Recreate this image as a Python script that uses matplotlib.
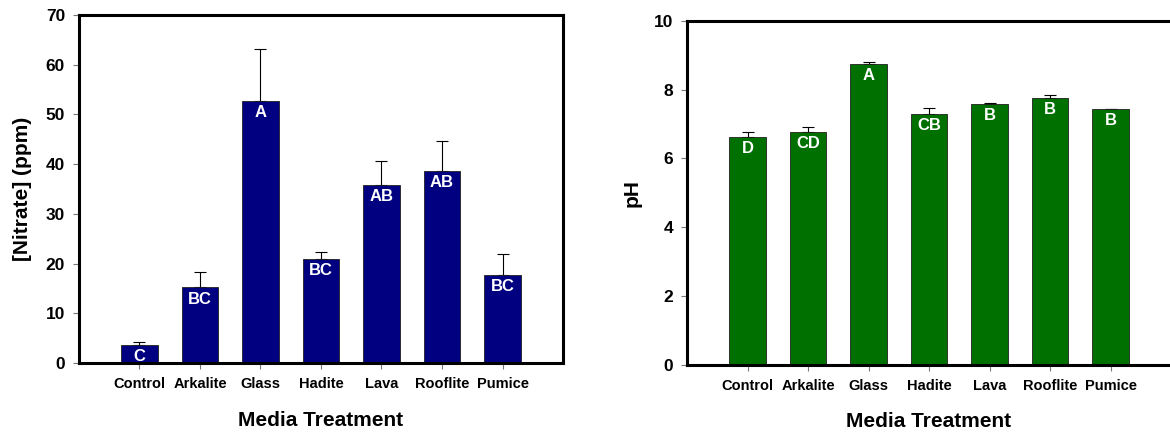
import numpy as np
import matplotlib.pyplot as plt

plt.rcParams['font.family'] = ['Liberation Sans', 'DejaVu Sans']
plt.rcParams['font.weight'] = 'bold'

# data
media = ['Control', 'Arkalite', 'Glass', 'Hadite', 'Lava', 'Rooflite', 'Pumice']
nitrate = [3.7, 15.2, 52.7, 21.0, 35.9, 38.6, 17.8]
nitrate_err = [0.5, 3.2, 10.4, 1.3, 4.7, 6.1, 4.1]
nitrate_letters = ['C', 'BC', 'A', 'BC', 'AB', 'AB', 'BC']
ph = [6.63, 6.77, 8.75, 7.29, 7.59, 7.75, 7.44]
ph_err = [0.14, 0.14, 0.04, 0.17, 0.02, 0.09, 0.0]
ph_letters = ['D', 'CD', 'A', 'CB', 'B', 'B', 'B']

fig = plt.figure(figsize=(11.7, 4.34), dpi=100)
ax1 = fig.add_axes([0.0675, 0.1636, 0.4137, 0.8018])
ax2 = fig.add_axes([0.5872, 0.1590, 0.4137, 0.7933])


def draw(ax, vals, errs, letters, color, ylim, yticks, ylabel):
    x = np.arange(1, len(vals) + 1)
    ax.bar(x, vals, width=0.6, color=color, edgecolor='#202020', linewidth=0.6, zorder=2)
    ax.errorbar(x, vals, yerr=[np.zeros(len(errs)), errs], fmt='none',
                ecolor='black', elinewidth=0.8, capsize=4, capthick=0.8, zorder=1)
    for xi, v, lab in zip(x, vals, letters):
        ax.annotate(lab, (xi, v), xytext=(0, -3), textcoords='offset points',
                    ha='center', va='top', color='white', fontsize=12, fontweight='bold')
    ax.set_xlim(0, 8)
    ax.set_ylim(*ylim)
    ax.set_yticks(yticks)
    ax.set_xticks(x)
    ax.set_xticklabels(media, fontsize=10.5, fontweight='bold')
    ax.tick_params(axis='y', labelsize=12.5, length=4, width=0.8, color='#777777', pad=6)
    ax.tick_params(axis='x', length=4, width=0.8, color='#777777', pad=6)
    for s in ax.spines.values():
        s.set_linewidth(2.2)
    ax.set_ylabel(ylabel, fontsize=15, fontweight='bold')
    ax.set_xlabel('Media Treatment', fontsize=15, fontweight='bold')


draw(ax1, nitrate, nitrate_err, nitrate_letters, '#000080', (0, 70), range(0, 71, 10), '[Nitrate] (ppm)')
draw(ax2, ph, ph_err, ph_letters, '#007000', (0, 10), range(0, 11, 2), 'pH')
ax2.spines['right'].set_visible(False)

ax1.yaxis.set_label_coords(-0.097, 0.5)
ax2.yaxis.set_label_coords(-0.093, 0.5)
ax1.xaxis.set_label_coords(0.5, -0.137)
ax2.xaxis.set_label_coords(0.5, -0.136)

fig.savefig('out.png', dpi=100)
